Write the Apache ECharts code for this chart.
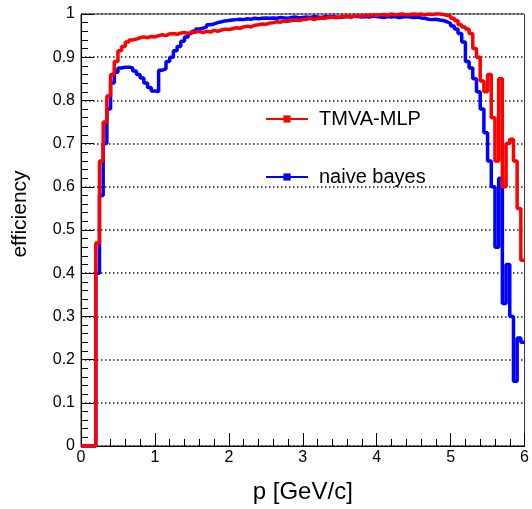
<!DOCTYPE html>
<html>
<head>
<meta charset="utf-8">
<script src="https://cdn.jsdelivr.net/npm/echarts@6/dist/echarts.min.js"></script>
<style>
html, body { margin: 0; padding: 0; background: #fff; }
#main { width: 532px; height: 509px; }
</style>
</head>
<body>
<div id="main"></div>
<script>
// histogram bins: 0.05 GeV/c wide, starting at p = 0
const binWidth = 0.05;
const pMax = 6;

// TMVA-MLP efficiency per bin
const effMlp = [
    0, 0, 0, 0,
    0.47, 0.66, 0.75, 0.81, 0.86, 0.89, 0.915, 0.925, 0.935, 0.94, 0.942, 0.945, 0.947, 0.945, 0.948, 0.947, 0.95,
    0.952, 0.95, 0.954, 0.955, 0.953, 0.956, 0.957, 0.955, 0.958, 0.958,
    0.96, 0.957, 0.96, 0.958, 0.962, 0.96, 0.963, 0.965, 0.964,
    0.966, 0.968, 0.967, 0.97, 0.972, 0.97, 0.974, 0.975, 0.977, 0.976,
    0.979, 0.98, 0.982, 0.981, 0.984, 0.983, 0.985, 0.986, 0.985, 0.987,
    0.988, 0.99, 0.987, 0.99, 0.991, 0.99, 0.992, 0.993, 0.991, 0.993,
    0.994, 0.995, 0.993, 0.995, 0.996, 0.995, 0.997, 0.996, 0.998, 0.997,
    0.998, 0.999, 0.997, 1.0, 0.998, 0.999, 1.0, 0.998, 0.999, 1.0,
    0.999, 1.0, 0.998, 1.0, 0.999, 1.0, 1.0, 0.999, 0.997, 0.995,
    0.99, 0.985, 0.975, 0.97, 0.965, 0.955, 0.92, 0.90, 0.845, 0.82,
    0.86, 0.76, 0.66, 0.85, 0.60, 0.70, 0.71, 0.66, 0.55, 0.43
];

// naive bayes efficiency per bin
const effBayes = [
    0, 0, 0, 0,
    0.40, 0.58, 0.70, 0.78, 0.84, 0.865, 0.875, 0.877, 0.877, 0.875, 0.868, 0.86, 0.852, 0.84, 0.83, 0.822, 0.82,
    0.87, 0.873, 0.89, 0.90, 0.915, 0.925, 0.937, 0.947, 0.955, 0.96,
    0.965, 0.967, 0.97, 0.975, 0.977, 0.98, 0.982, 0.984, 0.985,
    0.986, 0.987, 0.988, 0.987, 0.989, 0.988, 0.99, 0.989, 0.99, 0.991,
    0.99, 0.991, 0.99, 0.992, 0.991, 0.99, 0.992, 0.993, 0.991, 0.992,
    0.993, 0.992, 0.994, 0.993, 0.992, 0.994, 0.993, 0.994, 0.993, 0.992,
    0.993, 0.994, 0.993, 0.995, 0.994, 0.993, 0.994, 0.993, 0.995, 0.994,
    0.993, 0.992, 0.994, 0.993, 0.994, 0.992, 0.993, 0.994, 0.993, 0.992,
    0.993, 0.991, 0.99, 0.988, 0.987, 0.988, 0.986, 0.985, 0.982, 0.978,
    0.972, 0.965, 0.955, 0.935, 0.89, 0.875, 0.85, 0.82, 0.78, 0.725,
    0.66, 0.60, 0.46, 0.62, 0.33, 0.42, 0.30, 0.15, 0.25, 0.24
];

const seriesNames = ["TMVA-MLP", "naive bayes"];
const font = "'Liberation Sans', Arial, sans-serif";

// bin low edges + closing point at the upper edge
function histPoints(values) {
    var pts = values.map(function (v, i) { return [i * binWidth, v]; });
    pts.push([pMax, values[values.length - 1]]);
    return pts;
}

var chartDom = document.getElementById("main");
var myChart = echarts.init(chartDom, null, { renderer: "canvas" });
var option = {
    animation: false,
    backgroundColor: "#fff",
    textStyle: { fontFamily: font },
    grid: {
        left: 81,
        top: 14,
        width: 449,
        height: 433,
        show: true,
        borderColor: "#333",
        borderWidth: 1,
    },
    legend: {
        orient: "vertical",
        left: 265,
        top: 107,
        padding: 0,
        itemWidth: 42,
        itemHeight: 9,
        itemGap: 34,
        data: seriesNames,
        textStyle: {
            fontFamily: font,
            fontSize: 20,
            color: "#000",
            lineHeight: 24,
            padding: [0, 0, 0, 6],
        },
    },
    xAxis: {
        type: "value",
        min: 0,
        max: 6,
        interval: 1,
        name: "p [GeV/c]",
        nameLocation: "middle",
        nameGap: 34,
        nameTextStyle: { fontFamily: font, fontSize: 24, color: "#000" },
        axisLine: { lineStyle: { color: "#000", width: 1 } },
        axisTick: { inside: true, length: 13, lineStyle: { color: "#000" } },
        minorTick: { show: true, splitNumber: 5, length: 7, lineStyle: { color: "#000" } },
        axisLabel: { fontFamily: font, fontSize: 16, color: "#000", margin: 4 },
        splitLine: { show: false },
    },
    yAxis: {
        type: "value",
        min: 0,
        max: 1,
        interval: 0.1,
        name: "efficiency",
        nameLocation: "middle",
        nameGap: 50,
        nameRotate: 90,
        nameTextStyle: { fontFamily: font, fontSize: 21, color: "#000", padding: [0, 0, 0, 32] },
        axisLine: { lineStyle: { color: "#000", width: 1 } },
        axisTick: { inside: true, length: 13, lineStyle: { color: "#000" } },
        minorTick: { show: true, splitNumber: 5, length: 7, lineStyle: { color: "#000" } },
        axisLabel: { fontFamily: font, fontSize: 16, color: "#000", margin: 6 },
        splitLine: { show: true, lineStyle: { color: "#222", width: 1.5, type: [1.5, 2.5] } },
    },
    series: [
        {
            name: seriesNames[1],
            type: "line",
            step: "end",
            data: histPoints(effBayes),
            symbol: "rect",
            symbolSize: 7,
            showSymbol: false,
            clip: false,
            lineStyle: { color: "#0000ff", width: 3.5 },
            itemStyle: { color: "#0000ff" },
        },
        {
            name: seriesNames[0],
            type: "line",
            step: "end",
            data: histPoints(effMlp),
            symbol: "rect",
            symbolSize: 7,
            showSymbol: false,
            clip: false,
            lineStyle: { color: "#ff0000", width: 3.5 },
            itemStyle: { color: "#ff0000" },
        },
    ],
};
option && myChart.setOption(option);
</script>
</body>
</html>
